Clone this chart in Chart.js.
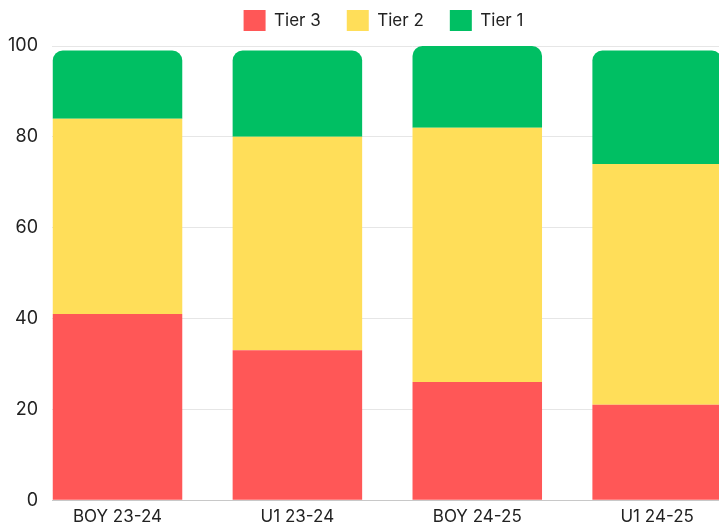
<!DOCTYPE html>
<html>
<head>
<meta charset="utf-8">
<script src="https://cdn.jsdelivr.net/npm/chart.js@4"></script>
<style>
  html, body { margin: 0; padding: 0; background: #fff; overflow: hidden; }
  #wrap { width: 773px; height: 525px; }
</style>
</head>
<body>
<div id="wrap"><canvas id="tiers"></canvas></div>
<script>
const categories = ['BOY 23-24', 'U1 23-24', 'BOY 24-25', 'U1 24-25'];
const tier3 = [41, 33, 26, 21];
const tier2 = [43, 47, 56, 53];
const tier1 = [15, 19, 18, 25];
const y_ticks = [0, 20, 40, 60, 80, 100];

Chart.defaults.font.family = 'Inter';
Chart.defaults.font.size = 17;
Chart.defaults.color = '#222';

function points(values) {
  return values.map((v, i) => ({ x: i, y: v }));
}

function make_dataset(label, values, color) {
  return {
    label: label,
    data: points(values),
    backgroundColor: color,
    borderWidth: 0,
    borderRadius: 10,
    stack: 'tiers',
  };
}

// a bit more room under the legend
const legend_gap = {
  id: 'legend_gap',
  beforeInit(chart) {
    const fit = chart.legend.fit;
    chart.legend.fit = function () {
      fit.bind(chart.legend)();
      this.height += 5;
    };
  }
};

const data = {
  datasets: [
    make_dataset('Tier 3', tier3, '#FF5757'),
    make_dataset('Tier 2', tier2, '#FFDE59'),
    make_dataset('Tier 1', tier1, '#00BF63'),
  ]
};

new Chart(document.getElementById('tiers'), {
  type: 'bar',
  data: data,
  plugins: [legend_gap],
  options: {
    responsive: true,
    maintainAspectRatio: false,
    animation: false,
    layout: { padding: { top: -16, left: -6, right: 0, bottom: -11 } },
    plugins: {
      legend: {
        labels: { boxWidth: 22, boxHeight: 21, padding: 26 }
      },
      tooltip: { enabled: false }
    },
    scales: {
      x: {
        type: 'linear',
        offset: false,
        min: -0.364,
        max: 3.644,
        grid: { display: false, drawTicks: false },
        border: { color: '#c8c8c8' },
        afterBuildTicks: axis => {
          axis.ticks = categories.map((c, i) => ({ value: i }));
        },
        ticks: {
          padding: 6,
          callback: value => categories[value],
        }
      },
      y: {
        stacked: true,
        min: 0,
        max: 100,
        afterBuildTicks: axis => {
          axis.ticks = y_ticks.map(v => ({ value: v }));
        },
        grid: { color: '#e6e6e6', drawTicks: false },
        border: { display: false },
        ticks: { padding: 14, font: { size: 18 } }
      }
    }
  }
});
</script>
</body>
</html>
